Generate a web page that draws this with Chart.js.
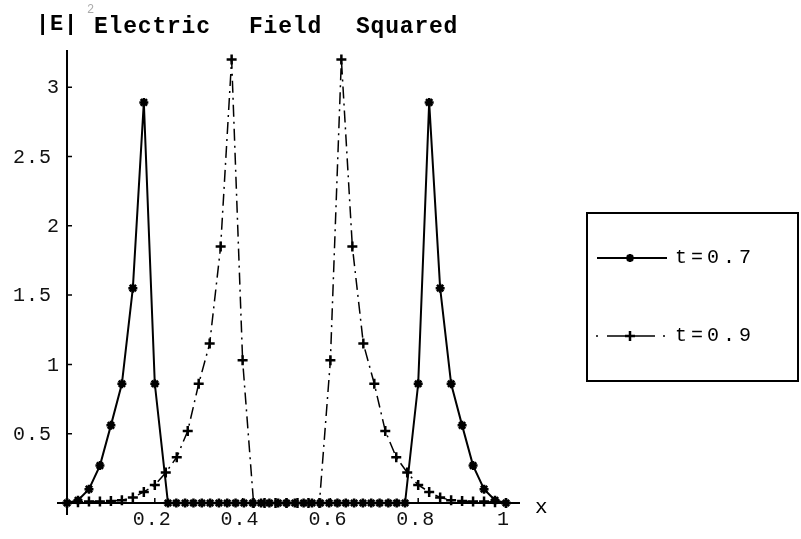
<!DOCTYPE html>
<html>
<head>
<meta charset="utf-8">
<title>Electric Field Squared</title>
<script src="https://cdn.jsdelivr.net/npm/chart.js@4.4.1/dist/chart.umd.min.js"></script>
<style>
  html, body { margin: 0; padding: 0; background: #fff; }
  #wrap { width: 801px; height: 539px; }
</style>
</head>
<body>
<div id="wrap"><canvas id="field" width="801" height="539"></canvas></div>
<script>
// ==============================
//  DATA
// ==============================
const SERIES_LABELS = ['t=0.7', 't=0.9'];

// t = 0.7 : two narrow peaks, flat zero in between
const T07_X = [0, 0.025, 0.05, 0.075, 0.1, 0.125, 0.15, 0.175, 0.2, 0.23,
  0.249, 0.269, 0.288, 0.307, 0.326, 0.346, 0.365, 0.384, 0.403, 0.423,
  0.442, 0.461, 0.481, 0.5, 0.519, 0.539, 0.558, 0.577, 0.597, 0.616,
  0.635, 0.654, 0.674, 0.693, 0.712, 0.732, 0.751, 0.77,
  0.8, 0.825, 0.85, 0.875, 0.9, 0.925, 0.95, 0.975, 1];
const T07_Y = [0, 0.02, 0.1, 0.27, 0.56, 0.86, 1.55, 2.89, 0.86, 0,
  0, 0, 0, 0, 0, 0, 0, 0, 0, 0,
  0, 0, 0, 0, 0, 0, 0, 0, 0, 0,
  0, 0, 0, 0, 0, 0, 0, 0,
  0.86, 2.89, 1.55, 0.86, 0.56, 0.27, 0.1, 0.02, 0];

// t = 0.9 : peaks moved towards the centre
const T09_X = [0, 0.025, 0.05, 0.075, 0.1, 0.125, 0.15, 0.175, 0.2, 0.225,
  0.25, 0.275, 0.3, 0.325, 0.35, 0.375, 0.4, 0.425, 0.45, 0.475,
  0.5, 0.525, 0.55, 0.575, 0.6, 0.625, 0.65, 0.675, 0.7, 0.725,
  0.75, 0.775, 0.8, 0.825, 0.85, 0.875, 0.9, 0.925, 0.95, 0.975, 1];
const T09_Y = [0, 0.005, 0.01, 0.01, 0.015, 0.02, 0.04, 0.08, 0.13, 0.22,
  0.33, 0.52, 0.86, 1.15, 1.85, 3.2, 1.03, 0, 0, 0,
  0, 0, 0, 0, 1.03, 3.2, 1.85, 1.15, 0.86, 0.52,
  0.33, 0.22, 0.13, 0.08, 0.04, 0.02, 0.015, 0.01, 0.01, 0.005, 0];

const X_TICKS = [0.2, 0.4, 0.6, 0.8, 1];
const Y_TICKS = [0.5, 1, 1.5, 2, 2.5, 3];

// ==============================
//  HELPERS
// ==============================
const MONO = '"Liberation Mono", "DejaVu Sans Mono", monospace';

function toPoints(xs, ys) {
  return xs.map((v, i) => ({ x: v, y: ys[i] }));
}

// fixed-pitch text, one glyph per cell
function monoText(ctx, str, x, y, adv) {
  for (let i = 0; i < str.length; i++) ctx.fillText(str[i], x + i * adv, y);
}

function drawMarker(ctx, style, cx, cy, r) {
  const angles = style === 'star' ? [0, 45, 90, 135] : [0, 90];
  ctx.beginPath();
  angles.forEach(a => {
    const dx = Math.cos(a * Math.PI / 180) * r, dy = Math.sin(a * Math.PI / 180) * r;
    ctx.moveTo(cx - dx, cy - dy);
    ctx.lineTo(cx + dx, cy + dy);
  });
  ctx.stroke();
}

// ==============================
//  AXES, LABELS, LEGEND
// ==============================
const mathAxes = {
  id: 'mathAxes',
  beforeDatasetsDraw(chart) {
    const { ctx, scales: { x, y } } = chart;
    const x0 = x.getPixelForValue(0), y0 = y.getPixelForValue(0);
    ctx.save();
    ctx.strokeStyle = '#000';
    ctx.lineWidth = 2;
    ctx.beginPath();
    ctx.moveTo(x.left, y0); ctx.lineTo(x.right, y0);
    ctx.moveTo(x0, y.top); ctx.lineTo(x0, y0 + 12);
    ctx.stroke();

    ctx.lineWidth = 1.5;
    ctx.beginPath();
    X_TICKS.forEach(v => {
      const px = x.getPixelForValue(v);
      ctx.moveTo(px, y0); ctx.lineTo(px, y0 - 5);
    });
    Y_TICKS.forEach(v => {
      const py = y.getPixelForValue(v);
      ctx.moveTo(x0, py); ctx.lineTo(x0 + 5, py);
    });
    ctx.stroke();

    ctx.fillStyle = '#111';
    ctx.font = '20px ' + MONO;
    ctx.textBaseline = 'middle';
    ctx.textAlign = 'left';
    X_TICKS.forEach(v => {
      const s = String(v);
      const w = (s.length - 1) * 13 + 12;
      monoText(ctx, s, x.getPixelForValue(v) - 3 - w / 2, y0 + 17, 13);
    });
    Y_TICKS.forEach(v => {
      const s = String(v);
      monoText(ctx, s, s.length > 1 ? x0 - 54 : x0 - 20, y.getPixelForValue(v) + 1, 13);
    });
    ctx.restore();
  },
  afterDraw(chart) {
    const ctx = chart.ctx;
    ctx.save();
    ctx.fillStyle = '#000';
    ctx.textAlign = 'left';
    ctx.textBaseline = 'alphabetic';

    // axis names and title
    ctx.font = 'bold 22px ' + MONO;
    monoText(ctx, '|E|', 36, 30, 14);
    ctx.fillStyle = '#aaa';
    ctx.font = '12px ' + MONO;
    ctx.fillText('2', 87, 13);
    ctx.fillStyle = '#000';
    ctx.font = 'bold 23px ' + MONO;
    monoText(ctx, 'Electric', 94, 33, 14.6);
    monoText(ctx, 'Field', 249, 33, 14.6);
    monoText(ctx, 'Squared', 356, 33, 14.6);
    ctx.font = '21px ' + MONO;
    ctx.fillText('x', 535, 513);

    // legend box
    ctx.strokeStyle = '#000';
    ctx.lineWidth = 2;
    ctx.strokeRect(587, 213, 211, 168);

    const ds = chart.data.datasets;
    // solid entry
    ctx.lineWidth = 2;
    ctx.beginPath();
    ctx.moveTo(597, 258); ctx.lineTo(667, 258);
    ctx.stroke();
    ctx.lineWidth = 2.5;
    drawMarker(ctx, ds[0].pointStyle, 630, 258, 4);

    // dash-dot entry
    ctx.lineWidth = 1.5;
    ctx.beginPath();
    ctx.moveTo(596, 336); ctx.lineTo(598, 336);
    ctx.moveTo(607, 336); ctx.lineTo(655, 336);
    ctx.moveTo(663, 336); ctx.lineTo(665, 336);
    ctx.stroke();
    ctx.lineWidth = 2.5;
    drawMarker(ctx, ds[1].pointStyle, 630, 336, 5);

    ctx.font = '20px ' + MONO;
    ctx.textBaseline = 'middle';
    monoText(ctx, SERIES_LABELS[0], 675, 258, 16);
    monoText(ctx, SERIES_LABELS[1], 675, 336, 16);
    ctx.restore();
  }
};

// ==============================
//  CHART
// ==============================
new Chart(document.getElementById('field'), {
  type: 'line',
  data: {
    datasets: [{
      label: SERIES_LABELS[0],
      data: toPoints(T07_X, T07_Y),
      borderColor: '#000',
      borderWidth: 2,
      pointStyle: 'star',
      pointRadius: 4.5,
      pointBorderWidth: 2.5,
      pointBorderColor: '#000',
      pointBackgroundColor: '#000',
      tension: 0,
      clip: false,
    }, {
      label: SERIES_LABELS[1],
      data: toPoints(T09_X, T09_Y),
      borderColor: '#000',
      borderWidth: 1.5,
      borderDash: [12, 5, 2, 5],
      pointStyle: 'cross',
      pointRadius: 5,
      pointBorderWidth: 2.5,
      pointBorderColor: '#000',
      tension: 0,
      clip: false,
    }]
  },
  options: {
    responsive: false,
    animation: false,
    layout: { padding: { left: 57, right: 281, top: 50, bottom: 36 } },
    plugins: { legend: { display: false }, tooltip: { enabled: false } },
    scales: {
      x: { type: 'linear', min: -0.0228, max: 1.0319, display: false },
      y: { type: 'linear', min: 0, max: 3.268, display: false }
    }
  },
  plugins: [mathAxes]
});
</script>
</body>
</html>
